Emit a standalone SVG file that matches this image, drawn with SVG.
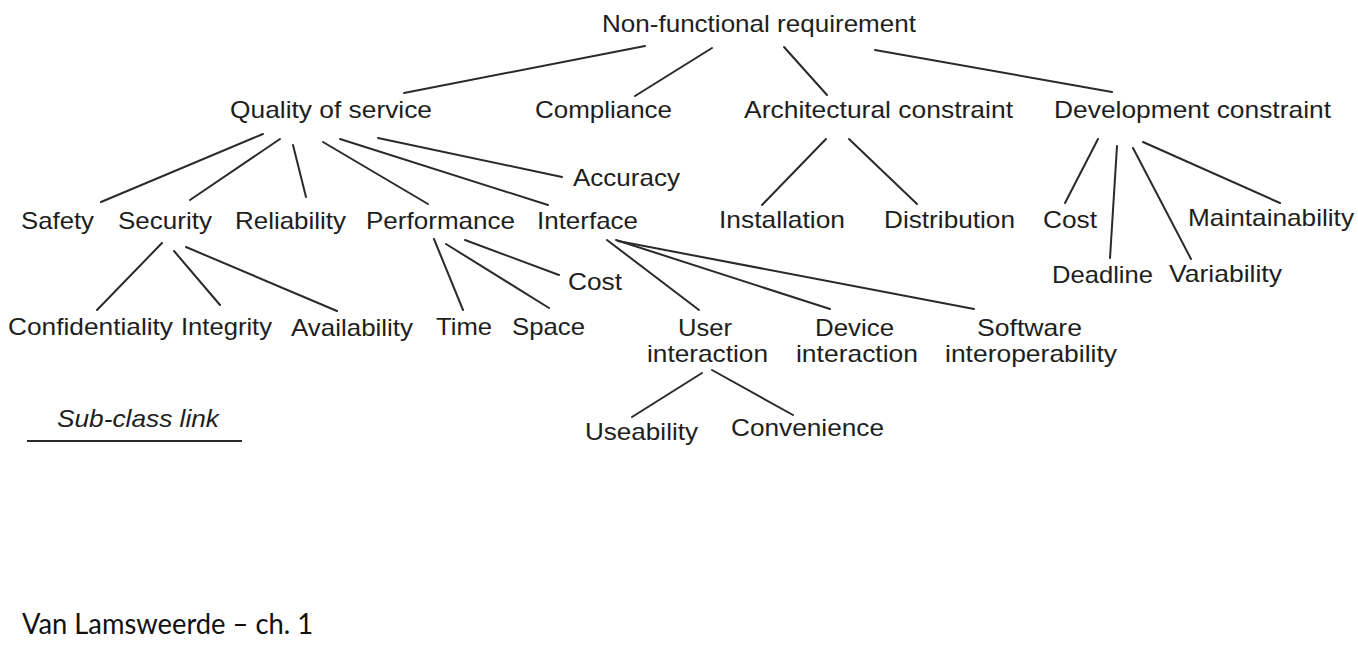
<svg xmlns="http://www.w3.org/2000/svg" width="1358" height="646" viewBox="0 0 1358 646">
<style>
  .n { font-family: "Liberation Sans", Arial, Helvetica, sans-serif; font-size: 24px; fill: #1e1e1e; }
  .it { font-style: italic; }
  .foot { font-family: Lato, "Open Sans", "Liberation Sans", sans-serif; font-size: 28px; fill: #111; }
  .c line { stroke: #2a2a2a; stroke-width: 2; stroke-linecap: round; }
</style>
<rect width="1358" height="646" fill="#ffffff"/>
<g id="connectors" class="c">
  <line x1="645" y1="46" x2="404" y2="93"/>
  <line x1="712" y1="48" x2="635" y2="96"/>
  <line x1="784" y1="47" x2="827" y2="95"/>
  <line x1="875" y1="50" x2="1112" y2="92"/>
  <line x1="263" y1="134" x2="101" y2="202"/>
  <line x1="280" y1="139" x2="190" y2="200"/>
  <line x1="293" y1="145" x2="306" y2="197"/>
  <line x1="323" y1="142" x2="428" y2="204"/>
  <line x1="340" y1="139" x2="548" y2="205"/>
  <line x1="378" y1="138" x2="562" y2="177"/>
  <line x1="826" y1="139" x2="762" y2="205"/>
  <line x1="849" y1="139" x2="917" y2="204"/>
  <line x1="1098" y1="139" x2="1065" y2="203"/>
  <line x1="1117" y1="146" x2="1110" y2="258"/>
  <line x1="1133" y1="148" x2="1191" y2="259"/>
  <line x1="1143" y1="142" x2="1280" y2="203"/>
  <line x1="162" y1="243" x2="97" y2="310"/>
  <line x1="174" y1="251" x2="220" y2="305"/>
  <line x1="186" y1="247" x2="337" y2="311"/>
  <line x1="434" y1="239" x2="463" y2="310"/>
  <line x1="446" y1="244" x2="549" y2="308"/>
  <line x1="465" y1="240" x2="559" y2="275"/>
  <line x1="607" y1="240" x2="699" y2="310"/>
  <line x1="616" y1="240" x2="830" y2="309"/>
  <line x1="618" y1="241" x2="974" y2="309"/>
  <line x1="702" y1="373" x2="632" y2="417"/>
  <line x1="712" y1="370" x2="793" y2="415"/>
</g>
<g id="nfr"><text class="n" x="602" y="32" textLength="314" lengthAdjust="spacingAndGlyphs">Non-functional requirement</text></g>
<g id="qos"><text class="n" x="230" y="118" textLength="202" lengthAdjust="spacingAndGlyphs">Quality of service</text></g>
<g id="compliance"><text class="n" x="535" y="118" textLength="137" lengthAdjust="spacingAndGlyphs">Compliance</text></g>
<g id="arch"><text class="n" x="744" y="118" textLength="269" lengthAdjust="spacingAndGlyphs">Architectural constraint</text></g>
<g id="dev"><text class="n" x="1054" y="118" textLength="277" lengthAdjust="spacingAndGlyphs">Development constraint</text></g>
<g id="accuracy"><text class="n" x="573" y="186" textLength="107" lengthAdjust="spacingAndGlyphs">Accuracy</text></g>
<g id="safety"><text class="n" x="21" y="229" textLength="73" lengthAdjust="spacingAndGlyphs">Safety</text></g>
<g id="security"><text class="n" x="118" y="229" textLength="94" lengthAdjust="spacingAndGlyphs">Security</text></g>
<g id="reliability"><text class="n" x="235" y="229" textLength="111" lengthAdjust="spacingAndGlyphs">Reliability</text></g>
<g id="performance"><text class="n" x="366" y="229" textLength="149" lengthAdjust="spacingAndGlyphs">Performance</text></g>
<g id="interface"><text class="n" x="537" y="229" textLength="101" lengthAdjust="spacingAndGlyphs">Interface</text></g>
<g id="installation"><text class="n" x="719" y="228" textLength="126" lengthAdjust="spacingAndGlyphs">Installation</text></g>
<g id="distribution"><text class="n" x="884" y="228" textLength="131" lengthAdjust="spacingAndGlyphs">Distribution</text></g>
<g id="devcost"><text class="n" x="1043" y="228" textLength="54" lengthAdjust="spacingAndGlyphs">Cost</text></g>
<g id="maintainability"><text class="n" x="1188" y="226" textLength="166" lengthAdjust="spacingAndGlyphs">Maintainability</text></g>
<g id="deadline"><text class="n" x="1052" y="283" textLength="101" lengthAdjust="spacingAndGlyphs">Deadline</text></g>
<g id="variability"><text class="n" x="1169" y="282" textLength="113" lengthAdjust="spacingAndGlyphs">Variability</text></g>
<g id="perfcost"><text class="n" x="568" y="290" textLength="54" lengthAdjust="spacingAndGlyphs">Cost</text></g>
<g id="confidentiality"><text class="n" x="8" y="335" textLength="165" lengthAdjust="spacingAndGlyphs">Confidentiality</text></g>
<g id="integrity"><text class="n" x="181" y="335" textLength="91" lengthAdjust="spacingAndGlyphs">Integrity</text></g>
<g id="availability"><text class="n" x="291" y="336" textLength="122" lengthAdjust="spacingAndGlyphs">Availability</text></g>
<g id="time"><text class="n" x="436" y="335" textLength="56" lengthAdjust="spacingAndGlyphs">Time</text></g>
<g id="space"><text class="n" x="512" y="335" textLength="73" lengthAdjust="spacingAndGlyphs">Space</text></g>
<g id="userinteraction">
  <text class="n" x="678" y="336" textLength="54" lengthAdjust="spacingAndGlyphs">User</text>
  <text class="n" x="647" y="362" textLength="121" lengthAdjust="spacingAndGlyphs">interaction</text>
</g>
<g id="deviceinteraction">
  <text class="n" x="815" y="336" textLength="79" lengthAdjust="spacingAndGlyphs">Device</text>
  <text class="n" x="796" y="362" textLength="122" lengthAdjust="spacingAndGlyphs">interaction</text>
</g>
<g id="softwareinterop">
  <text class="n" x="977" y="336" textLength="105" lengthAdjust="spacingAndGlyphs">Software</text>
  <text class="n" x="945" y="362" textLength="172" lengthAdjust="spacingAndGlyphs">interoperability</text>
</g>
<g id="useability"><text class="n" x="585" y="440" textLength="113" lengthAdjust="spacingAndGlyphs">Useability</text></g>
<g id="convenience"><text class="n" x="731" y="436" textLength="153" lengthAdjust="spacingAndGlyphs">Convenience</text></g>
<g id="legend">
  <text class="n it" x="57" y="427" textLength="162" lengthAdjust="spacingAndGlyphs">Sub-class link</text>
  <line x1="27" y1="441" x2="242" y2="441" stroke="#2a2a2a" stroke-width="2"/>
</g>
<g id="caption"><text class="foot" x="22" y="634" textLength="291" lengthAdjust="spacingAndGlyphs">Van Lamsweerde – ch. 1</text></g>
</svg>
